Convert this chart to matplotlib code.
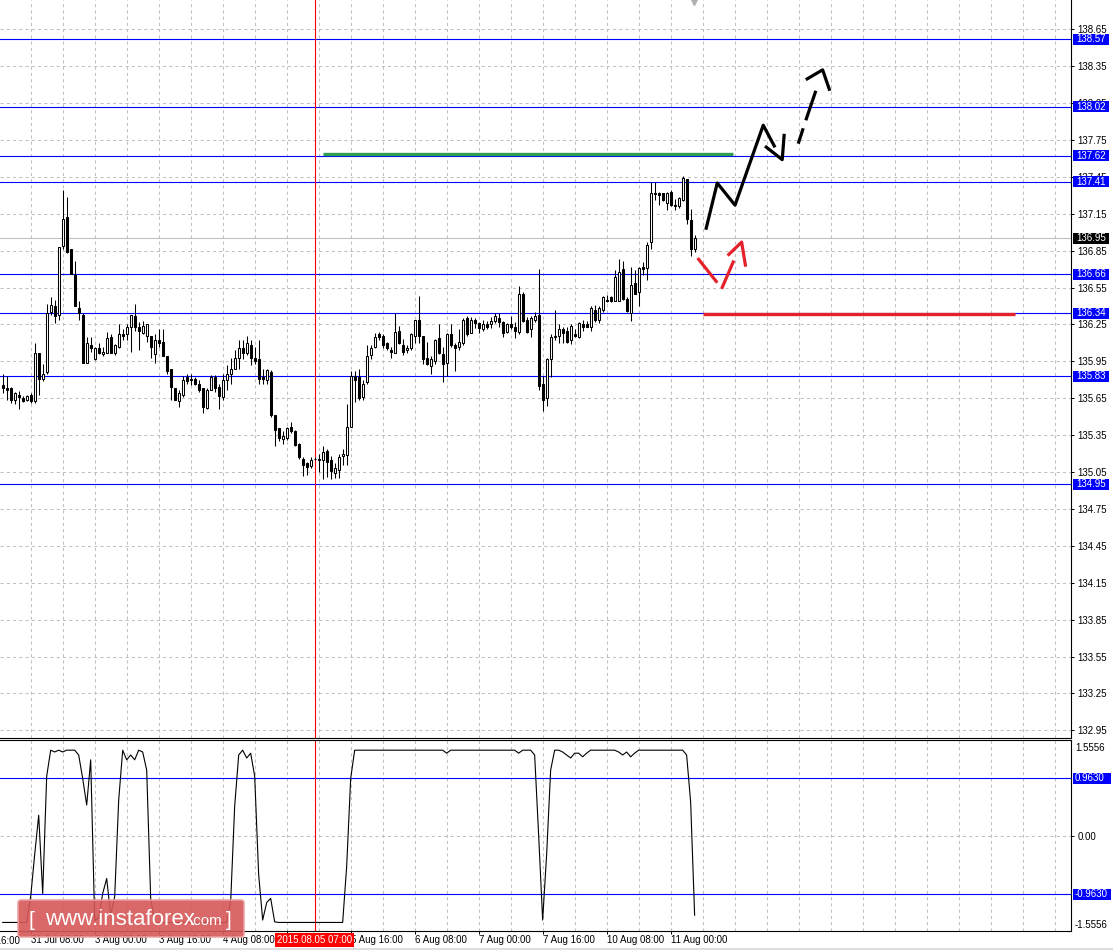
import numpy as np
import matplotlib.pyplot as plt
import matplotlib.transforms as mtransforms
from matplotlib.patches import Rectangle, FancyBboxPatch
from matplotlib.lines import Line2D

plt.rcParams['font.family'] = ['Liberation Sans', 'DejaVu Sans']

# H1 candles, bar 1 = 31 Jul 01:00 ... bar 174 = 11 Aug 06:00
opens = [135.76, 135.73, 135.73, 135.64, 135.68, 135.65, 135.64, 135.68, 135.63, 136.02,
         135.81, 135.86, 136.35, 136.40, 136.33, 136.89, 137.12, 136.86, 136.65, 136.38,
         136.33, 135.94, 136.08, 135.97, 136.06, 136.01, 136.02, 136.15, 136.02, 136.07,
         136.17, 136.17, 136.23, 136.32, 136.23, 136.18, 136.16, 136.16, 136.01, 136.12,
         136.11, 135.99, 135.89, 135.73, 135.63, 135.68, 135.82, 135.81, 135.81, 135.77,
         135.73, 135.57, 135.72, 135.82, 135.74, 135.66, 135.80, 135.85, 135.89, 135.98,
         136.06, 136.02, 136.08, 135.98, 135.97, 135.82, 135.80, 135.86, 135.51, 135.41,
         135.32, 135.33, 135.42, 135.38, 135.28, 135.16, 135.12, 135.10, 135.16, 135.16,
         135.15, 135.22, 135.15, 135.04, 135.07, 135.18, 135.19, 135.42, 135.83, 135.82,
         135.66, 135.78, 136.00, 136.07, 136.17, 136.16, 136.10, 136.04, 136.02, 136.20,
         136.08, 136.04, 136.06, 136.16, 136.29, 136.16, 135.98, 135.91, 135.95, 136.14,
         136.01, 135.94, 136.17, 136.08, 136.07, 136.10, 136.30, 136.18, 136.29, 136.26,
         136.21, 136.25, 136.25, 136.28, 136.30, 136.27, 136.19, 136.25, 136.23, 136.19,
         136.50, 136.29, 136.21, 136.29, 136.33, 135.77, 135.65, 135.97, 136.16, 136.16,
         136.21, 136.20, 136.12, 136.17, 136.15, 136.25, 136.25, 136.23, 136.37, 136.29,
         136.37, 136.45, 136.47, 136.44, 136.44, 136.70, 136.46, 136.34, 136.59, 136.51,
         136.72, 136.71, 136.92, 137.32, 137.32, 137.32, 137.24, 137.33, 137.22, 137.21,
         137.26, 137.43, 137.10, 136.86]
highs = [135.85, 135.83, 135.74, 135.70, 135.71, 135.67, 135.68, 135.69, 136.10, 136.02,
         135.93, 136.42, 136.47, 136.45, 136.88, 137.34, 137.29, 136.86, 136.77, 136.44,
         136.34, 136.15, 136.15, 136.07, 136.10, 136.07, 136.19, 136.17, 136.09, 136.25,
         136.21, 136.25, 136.33, 136.42, 136.27, 136.28, 136.25, 136.16, 136.17, 136.21,
         136.21, 135.99, 135.89, 135.73, 135.72, 135.83, 135.85, 135.85, 135.82, 135.80,
         135.73, 135.73, 135.84, 135.84, 135.77, 135.85, 135.92, 135.98, 136.04, 136.12,
         136.12, 136.16, 136.12, 136.07, 136.12, 135.89, 135.89, 135.88, 135.51, 135.41,
         135.38, 135.42, 135.46, 135.39, 135.29, 135.17, 135.13, 135.17, 135.17, 135.20,
         135.26, 135.24, 135.18, 135.12, 135.20, 135.24, 135.60, 135.87, 135.87, 135.89,
         135.80, 136.08, 136.08, 136.18, 136.19, 136.17, 136.11, 136.07, 136.34, 136.24,
         136.13, 136.08, 136.18, 136.29, 136.48, 136.16, 136.11, 135.99, 136.13, 136.25,
         136.07, 136.18, 136.25, 136.10, 136.21, 136.30, 136.32, 136.31, 136.30, 136.27,
         136.29, 136.28, 136.31, 136.34, 136.34, 136.28, 136.26, 136.32, 136.27, 136.56,
         136.51, 136.31, 136.32, 136.35, 136.70, 135.83, 135.98, 136.17, 136.37, 136.25,
         136.23, 136.23, 136.25, 136.21, 136.27, 136.29, 136.28, 136.40, 136.41, 136.40,
         136.48, 136.49, 136.48, 136.69, 136.78, 136.77, 136.47, 136.72, 136.69, 136.72,
         136.76, 136.92, 137.41, 137.41, 137.33, 137.32, 137.33, 137.34, 137.27, 137.29,
         137.46, 137.43, 137.19, 136.98]
lows = [135.69, 135.64, 135.61, 135.60, 135.56, 135.62, 135.63, 135.61, 135.61, 135.68,
        135.79, 135.85, 136.33, 136.26, 136.29, 136.86, 136.83, 136.66, 136.40, 136.29,
        135.94, 135.94, 136.03, 135.96, 136.01, 135.99, 136.02, 136.02, 136.00, 136.06,
        136.12, 136.12, 136.03, 136.20, 136.04, 136.17, 136.11, 135.98, 135.94, 136.07,
        135.99, 135.85, 135.64, 135.64, 135.58, 135.66, 135.77, 135.76, 135.76, 135.70,
        135.53, 135.56, 135.72, 135.70, 135.56, 135.64, 135.72, 135.77, 135.89, 135.89,
        135.97, 136.00, 135.92, 135.93, 135.77, 135.77, 135.77, 135.50, 135.26, 135.30,
        135.28, 135.31, 135.37, 135.26, 135.16, 135.02, 135.03, 135.08, 135.15, 135.05,
        134.99, 135.01, 134.99, 135.00, 135.00, 135.11, 135.11, 135.42, 135.62, 135.64,
        135.64, 135.77, 135.97, 136.06, 136.12, 136.06, 136.04, 135.98, 136.02, 136.09,
        136.00, 136.02, 136.04, 136.10, 136.10, 135.93, 135.92, 135.85, 135.93, 136.01,
        135.78, 135.83, 136.07, 135.87, 136.04, 136.08, 136.16, 136.18, 136.22, 136.18,
        136.20, 136.21, 136.22, 136.26, 136.23, 136.15, 136.18, 136.21, 136.14, 136.17,
        136.27, 136.18, 136.15, 136.27, 135.72, 135.55, 135.59, 135.82, 136.12, 136.10,
        136.10, 136.10, 136.09, 136.15, 136.14, 136.20, 136.23, 136.20, 136.27, 136.26,
        136.35, 136.43, 136.43, 136.44, 136.44, 136.45, 136.35, 136.28, 136.50, 136.40,
        136.65, 136.61, 136.86, 137.26, 137.22, 137.25, 137.18, 137.21, 137.18, 137.20,
        137.25, 137.07, 136.81, 136.84]
closes = [135.73, 135.72, 135.64, 135.69, 135.66, 135.63, 135.67, 135.63, 136.02, 135.81,
          135.85, 136.34, 136.41, 136.32, 136.88, 137.11, 136.84, 136.66, 136.40, 136.34,
          135.94, 136.10, 136.06, 136.06, 136.02, 136.03, 136.14, 136.02, 136.08, 136.17,
          136.16, 136.23, 136.33, 136.23, 136.20, 136.24, 136.25, 136.07, 136.12, 136.10,
          135.99, 135.87, 135.74, 135.64, 135.69, 135.80, 135.79, 135.80, 135.77, 135.72,
          135.58, 135.72, 135.82, 135.73, 135.67, 135.80, 135.85, 135.89, 135.98, 136.06,
          136.02, 136.10, 135.98, 135.95, 135.81, 135.81, 135.88, 135.51, 135.39, 135.33,
          135.34, 135.41, 135.38, 135.27, 135.17, 135.11, 135.09, 135.15, 135.16, 135.15,
          135.21, 135.13, 135.06, 135.08, 135.17, 135.20, 135.42, 135.83, 135.80, 135.65,
          135.77, 135.99, 136.06, 136.15, 136.15, 136.08, 136.06, 136.03, 136.19, 136.10,
          136.03, 136.06, 136.17, 136.29, 136.16, 135.97, 135.93, 135.97, 136.12, 136.02,
          135.93, 136.17, 136.08, 136.06, 136.11, 136.29, 136.17, 136.29, 136.26, 136.22,
          136.25, 136.23, 136.28, 136.32, 136.27, 136.18, 136.25, 136.23, 136.20, 136.50,
          136.28, 136.19, 136.30, 136.32, 135.75, 135.64, 135.97, 136.15, 136.15, 136.21,
          136.18, 136.11, 136.24, 136.16, 136.26, 136.23, 136.23, 136.38, 136.29, 136.38,
          136.47, 136.44, 136.44, 136.64, 136.68, 136.46, 136.36, 136.57, 136.50, 136.71,
          136.70, 136.90, 137.32, 137.31, 137.30, 137.26, 137.32, 137.22, 137.21, 137.28,
          137.44, 137.11, 136.86, 136.95]

# oscillator in the lower window, one value per bar
osc = [-1.43, -1.43, -1.43, -1.43, -1.43, -1.43, -1.43, -1.00, -0.30, 0.35,
       -0.95, 1.00, 1.43, 1.40, 1.43, 1.40, 1.43, 1.43, 1.43, 1.35,
       0.96, 0.52, 1.27, -1.40, -1.35, -0.95, -0.70, -1.31, -1.00, 0.60,
       1.43, 1.27, 1.35, 1.27, 1.43, 1.40, 1.10, -1.03, -1.42, -1.43,
       -1.43, -1.43, -1.43, -1.43, -1.43, -1.43, -1.43, -1.43, -1.43, -1.43,
       -1.43, -1.43, -1.43, -1.43, -1.43, -1.43, -1.43, -1.08, 0.50, 1.35,
       1.43, 1.30, 1.38, 1.00, -0.64, -1.39, -1.10, -1.03, -1.42, -1.43,
       -1.43, -1.43, -1.43, -1.43, -1.43, -1.43, -1.43, -1.43, -1.43, -1.43,
       -1.43, -1.43, -1.43, -1.43, -1.43, -1.43, -0.50, 0.96, 1.43, 1.43,
       1.43, 1.43, 1.43, 1.43, 1.43, 1.43, 1.43, 1.43, 1.43, 1.43,
       1.43, 1.43, 1.43, 1.43, 1.43, 1.43, 1.43, 1.43, 1.43, 1.43,
       1.43, 1.38, 1.43, 1.43, 1.43, 1.43, 1.43, 1.43, 1.43, 1.43,
       1.43, 1.43, 1.43, 1.43, 1.43, 1.43, 1.43, 1.43, 1.43, 1.38,
       1.43, 1.43, 1.43, 1.35, 0.02, -1.39, -0.30, 1.10, 1.43, 1.43,
       1.40, 1.35, 1.30, 1.38, 1.38, 1.32, 1.38, 1.43, 1.43, 1.43,
       1.43, 1.43, 1.43, 1.43, 1.40, 1.35, 1.40, 1.32, 1.38, 1.43,
       1.43, 1.43, 1.43, 1.43, 1.43, 1.43, 1.43, 1.43, 1.43, 1.43,
       1.43, 1.35, 0.57, -1.31]

price_ticks = [132.95, 133.25, 133.55, 133.85, 134.15, 134.45, 134.75, 135.05, 135.35, 135.65,
               135.95, 136.25, 136.55, 136.85, 137.15, 137.45, 137.75, 138.05, 138.35, 138.65]
levels = [138.57, 138.02, 137.62, 137.41, 136.66, 136.34, 135.83, 134.95]
last_price = 136.95
osc_levels = [0.9630, -0.9630]
osc_max = 1.5556

tick_bars = [8, 24, 40, 56, 72, 88, 104, 120, 136, 152, 168]
tick_names = ['31 Jul 08:00', '3 Aug 00:00', '3 Aug 16:00', '4 Aug 08:00', '5 Aug 00:00',
              '5 Aug 16:00', '6 Aug 08:00', '7 Aug 00:00', '7 Aug 16:00', '10 Aug 08:00',
              '11 Aug 00:00']
first_tick_bar = -8
first_tick_name = '30 Jul 16:00'
cursor_bar = 79
cursor_label = '2015.08.05 07:00'

# hand drawn forecast marks (bar, price)
green_bar = [81.1, 183.6]
green_price = [137.635, 137.635]
red_bar = [176.1, 254.1]
red_price = [136.335, 136.335]
black_strokes = [
    ([176.8, 179.65, 184.1, 191.15, 194.1], [137.02, 137.40, 137.22, 137.87, 137.69]),
    ([191.6, 195.9, 196.4], [137.70, 137.59, 137.80]),
    ([199.9, 201.15], [137.72, 137.845]),
    ([201.8, 204.3], [137.91, 138.15]),
    ([201.8, 206.0, 207.8], [138.24, 138.32, 138.15]),
]
red_strokes = [
    ([174.75, 179.65], [136.79, 136.59]),
    ([180.75, 183.8], [136.54, 136.77]),
    ([182.25, 185.75, 186.75], [136.81, 136.92, 136.72]),
]

W, H = 1113, 950
fig = plt.figure(figsize=(W / 100, H / 100), dpi=100)
fig.patch.set_facecolor('white')
ax = fig.add_axes([0, 212 / H, 1071 / W, 738 / H])
ax2 = fig.add_axes([0, 19 / H, 1071 / W, 191 / H])

xlim = (0.325, 268.1)
grid_kw = dict(color='#c0c0c0', linestyle=(0, (3, 3)), linewidth=0.75)
blue = '#0000ff'

bars = np.arange(1, len(closes) + 1)
o = np.array(opens)
c = np.array(closes)
hi = np.array(highs)
lo = np.array(lows)
up = c >= o

# ---- main price window
ax.set_xlim(*xlim)
ax.set_ylim(132.888, 138.888)
ax.set_axisbelow(True)
ax.set_xticks(np.arange(8, 268, 8))
ax.tick_params(axis='x', length=0, labelbottom=False)
ax.yaxis.tick_right()
ax.set_yticks(price_ticks)
ax.set_yticklabels(['%.2f' % t for t in price_ticks])
ax.tick_params(axis='y', length=2.2, width=0.7, pad=2.5, labelsize=7)
ax.grid(True, **grid_kw)
for s in ['top', 'left']:
    ax.spines[s].set_visible(False)
for s in ['bottom', 'right']:
    ax.spines[s].set_linewidth(0.8)

ax.axhline(last_price, color='#c0c0c0', lw=0.8, zorder=1.5)
for lv in levels:
    ax.axhline(lv, color=blue, lw=0.8, zorder=2)
ax.axvline(cursor_bar, color='#ff0000', lw=0.8, zorder=2)

ax.vlines(bars, lo, hi, color='black', lw=0.75, zorder=3)
ax.bar(bars[up], (c - o)[up], bottom=o[up], width=0.55, facecolor='white',
       edgecolor='black', linewidth=0.75, zorder=4)
ax.bar(bars[~up], (o - c)[~up], bottom=c[~up], width=0.55, facecolor='black',
       edgecolor='black', linewidth=0.75, zorder=4)

ax.plot(green_bar, green_price, color='#2f9e50', lw=2.4, solid_capstyle='butt', zorder=5)
ax.plot(red_bar, red_price, color='#e5212b', lw=2.4, solid_capstyle='butt', zorder=5)
for xs, ys in black_strokes:
    ax.plot(xs, ys, color='black', lw=2.3, solid_capstyle='butt', zorder=6)
for xs, ys in red_strokes:
    ax.plot(xs, ys, color='#e5212b', lw=2.3, solid_capstyle='butt', zorder=6)
ax.plot([173.8], [138.875], marker='v', color='#b0b0b0', ms=4, clip_on=False, zorder=6)

# price tags on the right scale
tr = mtransforms.blended_transform_factory(fig.transFigure, ax.transData)
box_h = 11 / 123.0
for lv in levels + [last_price]:
    fc = 'black' if lv == last_price else blue
    ax.add_patch(Rectangle((1073 / W, lv - box_h / 2), 36 / W, box_h, transform=tr,
                           facecolor=fc, edgecolor='none', clip_on=False, zorder=8))
    ax.text(1076 / W, lv, '%.2f' % lv, transform=tr, color='white', fontsize=7,
            ha='left', va='center', clip_on=False, zorder=9)

# ---- oscillator window
ax2.set_xlim(*xlim)
ax2.set_ylim(-1.572, 1.599)
ax2.set_axisbelow(True)
ax2.set_xticks(tick_bars)
ax2.set_xticklabels(tick_names, ha='left')
ax2.set_xticks(np.arange(8, 268, 8), minor=True)
ax2.tick_params(axis='x', which='major', length=2.2, width=0.7, pad=1, labelsize=7)
ax2.tick_params(axis='x', which='minor', length=0)
ax2.grid(True, axis='x', which='both', **grid_kw)
ax2.axhline(0, zorder=0.6, **grid_kw)
ax2.yaxis.tick_right()
ax2.set_yticks([0])
ax2.set_yticklabels(['0.00'])
ax2.tick_params(axis='y', length=2.2, width=0.7, pad=2.5, labelsize=7)
ax2.spines['left'].set_visible(False)
for s in ['top', 'bottom', 'right']:
    ax2.spines[s].set_linewidth(0.8)

for lv in osc_levels:
    ax2.axhline(lv, color=blue, lw=0.8, zorder=2)
ax2.axvline(cursor_bar, color='#ff0000', lw=0.8, zorder=2)
ax2.plot(bars, osc, color='black', lw=0.8, zorder=3)

tr2 = mtransforms.blended_transform_factory(fig.transFigure, ax2.transData)
ax2.text(1075 / W, osc_max, '%.4f' % osc_max, transform=tr2, fontsize=7,
         ha='left', va='top', clip_on=False)
ax2.text(1075 / W, -osc_max, '%.4f' % -osc_max, transform=tr2, fontsize=7,
         ha='left', va='bottom', clip_on=False)
box_h2 = 11 / 60.2
for lv in osc_levels:
    ax2.add_patch(Rectangle((1073 / W, lv - box_h2 / 2), 38 / W, box_h2, transform=tr2,
                            facecolor=blue, edgecolor='none', clip_on=False, zorder=8))
    ax2.text(1075 / W, lv, '%.4f' % lv, transform=tr2, color='white', fontsize=7,
             ha='left', va='center', clip_on=False, zorder=9)

# time label cut at the left edge, on the same row as the other time labels
ax2.annotate(first_tick_name, xy=(first_tick_bar, 0), xycoords=ax2.get_xaxis_transform(),
             xytext=(0, -4.5), textcoords='offset pixels', fontsize=7, ha='left', va='top',
             annotation_clip=False)
# cursor time tag
ax2.annotate(cursor_label, xy=(cursor_bar, 0), xycoords=ax2.get_xaxis_transform(),
             xytext=(0, -9), textcoords='offset pixels', ha='center', va='center',
             color='white', fontsize=7, zorder=10, annotation_clip=False,
             bbox=dict(boxstyle='square,pad=0.2', facecolor='#ff0000', edgecolor='none'))

# watermark
fig.add_artist(FancyBboxPatch((18 / W, 13 / H), 226 / W, 37 / H,
                              boxstyle='round,pad=0,rounding_size=0.003',
                              transform=fig.transFigure, facecolor='#d85858',
                              edgecolor='#eaa0a0', linewidth=1.2, alpha=0.9, zorder=5))
fig.text(28 / W, (950 - 926) / H, '[', color='white', fontsize=15, va='baseline', zorder=6)
fig.text(45 / W, (950 - 925) / H, 'www.instaforex', color='white', fontsize=16,
         va='baseline', zorder=6)
fig.text(190 / W, (950 - 925) / H, '.com', color='white', fontsize=11,
         va='baseline', zorder=6)
fig.text(226 / W, (950 - 926) / H, ']', color='white', fontsize=15, va='baseline', zorder=6)

fig.add_artist(Line2D([0, 1], [1.5 / H, 1.5 / H], color='#d8d8d8', lw=1.2))

fig.savefig('out.png', dpi=100, facecolor='white')
